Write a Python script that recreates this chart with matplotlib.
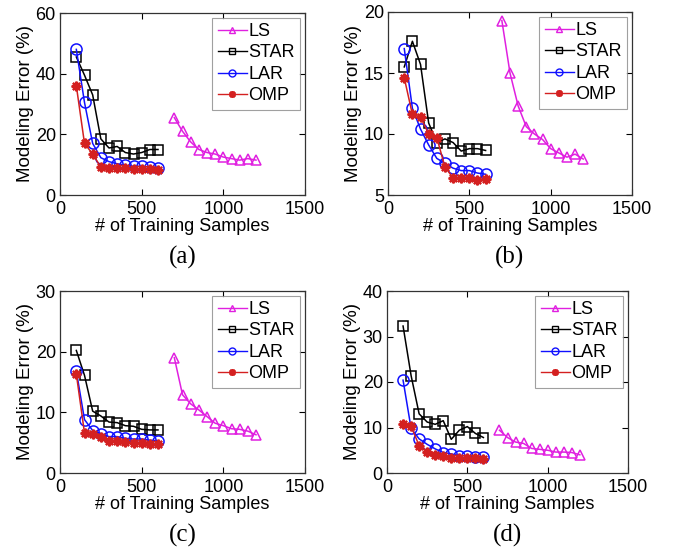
import matplotlib
matplotlib.use("Agg")
import matplotlib.pyplot as plt
from matplotlib.lines import Line2D

x_small = [100, 150, 200, 250, 300, 350, 400, 450, 500, 550, 600]
x_ls = [700, 750, 800, 850, 900, 950, 1000, 1050, 1100, 1150, 1200]

# (a)
a_ls = [25.5, 21, 17.5, 15, 14, 13.5, 12.5, 12, 11.5, 12, 11.5]
a_star = [45.5, 39.5, 33, 18.5, 15.5, 16, 14, 13.5, 14, 15, 15]
a_lar = [48, 30.5, 17, 12.3, 11, 10.3, 9.8, 9.5, 9.5, 9.2, 9]
a_omp = [36, 17, 13.5, 9.2, 9, 9, 8.8, 8.5, 8.5, 8.5, 8.3]
# (b)
b_ls = [19.3, 15.0, 12.3, 10.6, 10.0, 9.55, 8.8, 8.45, 8.1, 8.35, 7.95]
b_star = [15.5, 17.6, 15.7, 10.9, 9.3, 9.6, 9.3, 8.6, 8.8, 8.8, 8.65]
b_lar = [17.0, 12.1, 10.4, 9.1, 8.0, 7.6, 7.2, 7.0, 7.0, 6.8, 6.7]
b_omp = [14.6, 11.6, 11.4, 10.0, 9.7, 7.3, 6.4, 6.4, 6.4, 6.2, 6.3]
# (c)
c_ls = [19, 12.9, 11.4, 10.4, 9.3, 8.2, 7.8, 7.3, 7.2, 6.9, 6.3]
c_star = [20.2, 16.1, 10.2, 9.4, 8.4, 8.3, 7.8, 7.7, 7.2, 7.1, 7.1]
c_lar = [16.8, 8.8, 7.0, 6.5, 6.0, 6.0, 5.7, 5.6, 5.6, 5.4, 5.3]
c_omp = [16.3, 6.6, 6.5, 6.0, 5.3, 5.2, 5.1, 5.0, 5.0, 4.8, 4.7]
# (d)
d_ls = [9.4, 7.8, 6.8, 6.5, 5.4, 5.2, 5.0, 4.6, 4.6, 4.5, 4.0]
d_star = [32.3, 21.4, 13.0, 11.2, 10.7, 11.5, 7.4, 9.4, 10.2, 8.7, 7.8]
d_lar = [20.4, 9.8, 7.5, 6.3, 5.3, 4.5, 4.2, 3.8, 3.8, 3.6, 3.5]
d_omp = [10.7, 10.3, 6.0, 4.6, 4.0, 3.8, 3.4, 3.2, 3.2, 3.2, 3.1]

panels = [
    ("(a)", a_ls, a_star, a_lar, a_omp, (0, 60), [0, 20, 40, 60]),
    ("(b)", b_ls, b_star, b_lar, b_omp, (5, 20), [5, 10, 15, 20]),
    ("(c)", c_ls, c_star, c_lar, c_omp, (0, 30), [0, 10, 20, 30]),
    ("(d)", d_ls, d_star, d_lar, d_omp, (0, 40), [0, 10, 20, 30, 40]),
]
x_ticks = [0, 500, 1000, 1500]
series_names = ["LS", "STAR", "LAR", "OMP"]

W, H = 675, 552
fig = plt.figure(figsize=(W / 100, H / 100), dpi=100)
plt.rcParams['font.family'] = ['Liberation Sans', 'DejaVu Sans']

# pixel boxes (left, top, right, bottom)
boxes = [(60, 13, 305, 195), (388, 12, 632, 195), (60, 291, 305, 473), (387, 291, 628, 473)]

c_ls_col = '#e020e0'
c_star_col = 'black'
c_lar_col = '#1010ff'
c_omp_col = '#d42020'
ast = (8, 2, 0)

for (label, ls, star, lar, omp, ylim, yt), (l, t, r, b) in zip(panels, boxes):
    ax = fig.add_axes([l / W, 1 - b / H, (r - l) / W, (b - t) / H])
    ax.plot(x_ls, ls, color=c_ls_col, marker='^', mfc='none', ms=7.5, lw=1.1, mew=1.1)
    ax.plot(x_small, star, color=c_star_col, marker='s', mfc='none', ms=7, lw=1.1, mew=1.1)
    ax.plot(x_small, lar, color=c_lar_col, marker='o', mfc='none', ms=8, lw=1.1, mew=1.1)
    ax.plot(x_small, omp, color=c_omp_col, marker=ast, ms=7, lw=1.1, mew=1.6)
    ax.set_xlim(0, 1500)
    ax.set_ylim(*ylim)
    ax.set_xticks(x_ticks)
    ax.set_yticks(yt)
    ax.tick_params(direction='in', top=True, right=True, labelsize=13, length=4, width=0.8)
    ax.tick_params(axis='x', pad=4)
    ax.tick_params(axis='y', pad=3)
    for s in ax.spines.values():
        s.set_linewidth(0.9)
        s.set_color('#333333')
    ax.set_xlabel("# of Training Samples", fontsize=13, labelpad=0)
    ax.set_ylabel("Modeling Error (%)", fontsize=13.5, labelpad=1)
    handles = [
        Line2D([], [], color=c_ls_col, marker='^', mfc='none', ms=5, lw=1),
        Line2D([], [], color=c_star_col, marker='s', mfc='none', ms=5, lw=1),
        Line2D([], [], color=c_lar_col, marker='o', mfc='none', ms=5, lw=1),
        Line2D([], [], color=c_omp_col, marker=ast, ms=5, lw=1, mew=1.3),
    ]
    leg = ax.legend(handles, series_names, loc='upper right', fontsize=13,
                    handlelength=1.6, handletextpad=0.1, labelspacing=0.25,
                    borderpad=0.3, borderaxespad=0.25, fancybox=False, frameon=True)
    leg.get_frame().set_edgecolor('#888888')
    leg.get_frame().set_linewidth(0.8)
    cx = (l + r) / 2
    fig.text(cx / W, 1 - (b + 62) / H, label, ha='center', va='center',
             fontsize=18, family=['Liberation Serif', 'DejaVu Serif'])

fig.savefig("out.png", dpi=100)
